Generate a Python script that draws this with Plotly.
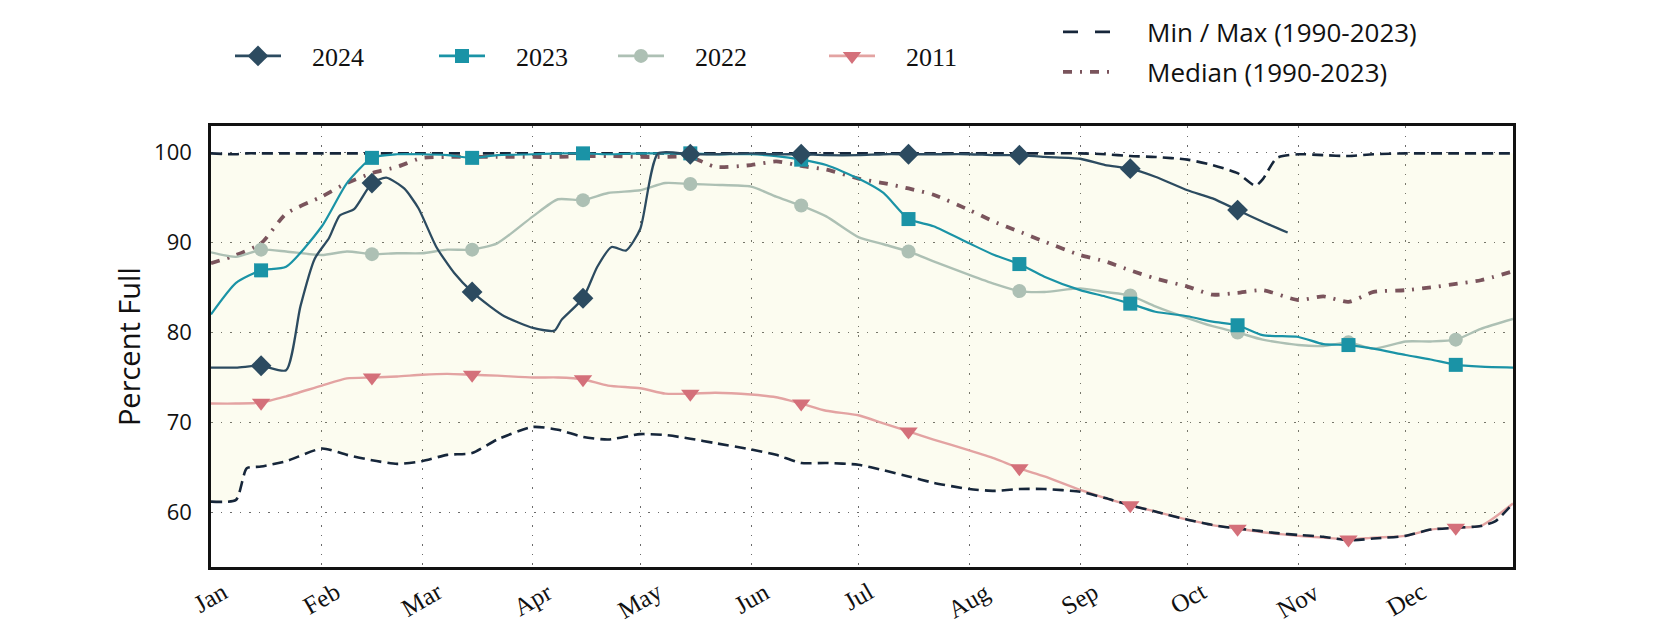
import plotly.graph_objects as go

YEAR = "2023"  # common (non-leap) calendar used for the day-of-year axis

# ---------------- data ----------------
base_dates = ["01-01", "01-08", "01-15", "01-22", "02-01", "02-08", "02-15", "02-22",
              "03-01", "03-08", "03-15", "03-22", "04-01", "04-08", "04-15", "04-22",
              "05-01", "05-08", "05-15", "05-22", "06-01", "06-08", "06-15", "06-22",
              "07-01", "07-08", "07-15", "07-22", "08-01", "08-08", "08-15", "08-22",
              "09-01", "09-08", "09-15", "09-22", "10-01", "10-08", "10-15", "10-22",
              "11-01", "11-08", "11-15", "11-22", "12-01", "12-08", "12-15", "12-22", "12-31"]

v2023 = [82.0, 85.5, 86.9, 87.3, 91.8, 96.6, 99.4, 99.8, 99.8, 99.7, 99.4, 99.7,
         99.8, 99.9, 99.9, 99.8, 99.9, 99.9, 99.9, 99.8, 99.8, 99.6, 99.2, 98.6,
         97.1, 95.5, 92.6, 91.8, 89.9, 88.6, 87.6, 86.2, 84.7, 84.0, 83.2, 82.3,
         81.8, 81.2, 80.8, 79.7, 79.5, 78.7, 78.6, 78.2, 77.5, 77.0, 76.4, 76.2, 76.1]

v2022 = [88.9, 88.4, 89.2, 89.0, 88.6, 89.0, 88.7, 88.8, 88.8, 89.2, 89.2, 89.9,
         92.9, 94.8, 94.7, 95.5, 95.8, 96.6, 96.5, 96.4, 96.2, 95.1, 94.1, 92.9,
         90.6, 89.8, 89.0, 87.9, 86.4, 85.4, 84.6, 84.5, 84.9, 84.5, 84.1, 82.9,
         81.6, 80.7, 80.0, 79.2, 78.6, 78.5, 78.9, 78.2, 79.0, 79.0, 79.2, 80.4, 81.5]

v2011 = [72.1, 72.1, 72.2, 72.9, 74.1, 74.9, 75.0, 75.1, 75.3, 75.4, 75.3, 75.2,
         75.0, 75.0, 74.8, 74.1, 73.8, 73.2, 73.2, 73.3, 73.1, 72.8, 72.1, 71.3,
         70.8, 69.9, 69.0, 68.1, 66.9, 66.0, 64.9, 64.0, 62.5, 61.6, 60.8, 60.1,
         59.2, 58.6, 58.2, 57.8, 57.4, 57.2, 57.0, 57.2, 57.4, 58.1, 58.3, 58.5, 61.0]

v_median = [87.7, 88.6, 89.9, 93.2, 95.1, 96.6, 97.7, 98.4, 99.4, 99.5, 99.5, 99.5,
            99.5, 99.5, 99.6, 99.6, 99.5, 99.5, 99.5, 98.4, 98.6, 99.0, 98.5, 98.1,
            97.1, 96.6, 96.0, 95.3, 93.6, 92.3, 91.2, 90.1, 88.6, 87.9, 86.9, 86.0,
            85.1, 84.2, 84.4, 84.7, 83.6, 84.0, 83.4, 84.5, 84.7, 85.0, 85.4, 85.8, 86.8]

d2024 = ["01-01", "01-08", "01-15", "01-22", "01-26", "01-30", "02-03", "02-06", "02-10",
         "02-15", "02-19", "02-24", "02-28", "03-05", "03-10", "03-15", "03-20", "03-24",
         "04-01", "04-07", "04-09", "04-15", "04-19", "04-23", "04-27", "05-01", "05-06",
         "05-15", "05-22", "06-01", "06-08", "06-15", "06-22", "07-01", "07-08", "07-15",
         "07-22", "08-01", "08-08", "08-15", "08-22", "09-01", "09-08", "09-15", "09-22",
         "10-01", "10-08", "10-15", "10-22", "10-29"]
v2024 = [76.1, 76.1, 76.3, 75.8, 82.9, 88.2, 90.5, 93.0, 93.7,
         96.6, 97.2, 96.0, 93.8, 89.5, 86.6, 84.5, 82.9, 81.8,
         80.5, 80.2, 81.4, 83.8, 87.3, 89.5, 89.1, 91.5, 99.9,
         99.8, 99.8, 99.9, 99.8, 99.8, 99.7, 99.7, 99.8, 99.8,
         99.8, 99.8, 99.7, 99.7, 99.5, 99.3, 98.6, 98.2, 97.3,
         95.8, 94.9, 93.6, 92.3, 91.1]

env_dates = ["01-01", "01-08", "01-11", "01-15", "01-22", "02-01", "02-08", "02-15", "02-22",
             "03-01", "03-08", "03-15", "03-22", "04-01", "04-08", "04-15", "04-22",
             "05-01", "05-08", "05-15", "05-22", "06-01", "06-08", "06-15", "06-22",
             "07-01", "07-08", "07-15", "07-22", "08-01", "08-08", "08-15", "08-22",
             "09-01", "09-08", "09-15", "09-22", "10-01", "10-08", "10-15", "10-20", "10-22",
             "10-26", "11-01", "11-08", "11-15", "11-22", "12-01", "12-08", "12-15", "12-22",
             "12-26", "12-31"]
v_min = [61.2, 61.4, 64.9, 65.1, 65.7, 67.1, 66.4, 65.8, 65.4,
         65.7, 66.4, 66.6, 68.1, 69.5, 69.2, 68.4, 68.1,
         68.7, 68.6, 68.2, 67.7, 67.0, 66.4, 65.5, 65.5,
         65.3, 64.7, 64.0, 63.3, 62.6, 62.4, 62.6, 62.6,
         62.3, 61.6, 60.8, 60.1, 59.2, 58.6, 58.2, 58.0, 57.9,
         57.7, 57.5, 57.3, 56.9, 57.1, 57.4, 58.1, 58.3, 58.5,
         59.0, 61.0]
v_max = [99.9, 99.8, 99.9, 99.9, 99.9, 99.9, 99.9, 99.9, 99.9,
         99.9, 99.9, 99.9, 99.9, 99.9, 99.9, 99.9, 99.9,
         99.9, 99.9, 99.9, 99.9, 99.9, 99.9, 99.9, 99.9,
         99.9, 99.9, 99.9, 99.9, 99.9, 99.9, 99.9, 99.9,
         99.9, 99.8, 99.6, 99.5, 99.2, 98.6, 97.7, 96.3, 97.0,
         99.4, 99.8, 99.7, 99.6, 99.8, 99.9, 99.9, 99.9, 99.9,
         99.9, 99.9]

month_labels = ["Jan", "Feb", "Mar", "Apr", "May", "Jun",
                "Jul", "Aug", "Sep", "Oct", "Nov", "Dec"]
y_ticks = [60, 70, 80, 90, 100]

# ---------------- styles ----------------
C2024, C2023, C2022 = "#2c4b60", "#1a93a6", "#adc0b4"
C2011_LINE, C2011_MK = "#e3a3a2", "#d4707a"
CENV, CMED = "#16263a", "#7a545c"
CFILL = "rgba(225,225,110,0.1)"   # pale cream, lets the grid show through
SANS = "Open Sans"
SERIF = "Liberation Serif"
SHAPE = dict(shape="spline", smoothing=0.6)
PAD_Y = "\u00a0" * 4
PAD_S = "\u00a0" * 4


def dt(md):
    return f"{YEAR}-{md}"


def xs(dates):
    return [dt(d) for d in dates]


def mid_month(dates, vals):
    pts = [(dt(d), v) for d, v in zip(dates, vals) if d.endswith("-15")]
    return [p[0] for p in pts], [p[1] for p in pts]


fig = go.Figure()

# envelope fill (drawn first, underneath everything)
fig.add_trace(go.Scatter(x=xs(env_dates), y=v_min, mode="lines", line=dict(width=0, **SHAPE),
                         showlegend=False, hoverinfo="skip"))
fig.add_trace(go.Scatter(x=xs(env_dates), y=v_max, mode="lines", line=dict(width=0, **SHAPE),
                         fill="tonexty", fillcolor=CFILL, showlegend=False, hoverinfo="skip"))

# 2011 line (below min/max dashes)
fig.add_trace(go.Scatter(x=xs(base_dates), y=v2011, mode="lines",
                         line=dict(color=C2011_LINE, width=2.4, **SHAPE), showlegend=False))

# min / max dashed
env_line = dict(color=CENV, width=2.6, dash="11px,6px", **SHAPE)
fig.add_trace(go.Scatter(x=xs(env_dates), y=v_min, mode="lines", line=env_line, showlegend=False))
fig.add_trace(go.Scatter(x=xs(env_dates), y=v_max, mode="lines", line=env_line, showlegend=False))

# median dash-dot
med_line = dict(color=CMED, width=3.8, dash="9px,8px,2px,8px", **SHAPE)
fig.add_trace(go.Scatter(x=xs(base_dates), y=v_median, mode="lines", line=med_line, showlegend=False))

# 2022, 2023, 2024 lines
fig.add_trace(go.Scatter(x=xs(base_dates), y=v2022, mode="lines",
                         line=dict(color=C2022, width=2.4, **SHAPE), showlegend=False))
fig.add_trace(go.Scatter(x=xs(base_dates), y=v2023, mode="lines",
                         line=dict(color=C2023, width=2.2, **SHAPE), showlegend=False))
fig.add_trace(go.Scatter(x=xs(d2024), y=v2024, mode="lines",
                         line=dict(color=C2024, width=2.3, **SHAPE), showlegend=False))

# monthly markers (15th of each month)
mk = [
    (base_dates, v2011, "triangle-down", C2011_MK, 16),
    (base_dates, v2022, "circle", C2022, 14),
    (base_dates, v2023, "square", C2023, 14),
    (d2024, v2024, "diamond", C2024, 16),
]
for dts, vals, sym, col, sz in mk:
    mx, my = mid_month(dts, vals)
    fig.add_trace(go.Scatter(x=mx, y=my, mode="markers",
                             marker=dict(symbol=sym, color=col, size=sz, line=dict(width=0)),
                             showlegend=False))

# legend entries
leg_items = [
    ("2024", C2024, C2024, "diamond", 16, "legend"),
    ("2023", C2023, C2023, "square", 14, "legend2"),
    ("2022", C2022, C2022, "circle", 14, "legend3"),
    ("2011", C2011_LINE, C2011_MK, "triangle-down", 16, "legend4"),
]
for name, lc, mc, sym, sz, lg in leg_items:
    fig.add_trace(go.Scatter(x=[None], y=[None], mode="lines+markers", name=PAD_Y + name,
                             line=dict(color=lc, width=2.6),
                             marker=dict(symbol=sym, color=mc, size=sz),
                             legend=lg, showlegend=True))
fig.add_trace(go.Scatter(x=[None], y=[None], mode="lines", name=PAD_S + "Min / Max (1990-2023)",
                         line=dict(color=CENV, width=2.6, dash="15px,17px"),
                         legend="legend5", showlegend=True))
fig.add_trace(go.Scatter(x=[None], y=[None], mode="lines", name=PAD_S + "Median (1990-2023)",
                         line=dict(color=CMED, width=3.8, dash="9px,8px,2px,8px"),
                         legend="legend6", showlegend=True))

W, H = 1680, 630
PL, PR, PT, PB = 211, 1513, 126, 567


def leg(px, py, font, iw=30):
    return dict(x=px / W, y=1 - py / H, xref="container", yref="container",
                xanchor="left", yanchor="middle", bgcolor="rgba(0,0,0,0)",
                borderwidth=0, font=font, itemwidth=iw, orientation="v")


year_font = dict(family=SERIF, size=26, color="#111111")
sans_font = dict(family=SANS, size=26, color="#111111")

# month tick labels as rotated text
annotations = []
for i, lab in enumerate(month_labels):
    annotations.append(dict(x=dt(f"{i + 1:02d}-01"), y=0, xref="x", yref="paper",
                            text=lab, showarrow=False, textangle=-30,
                            xanchor="center", yanchor="top", yshift=-8,
                            font=dict(family=SERIF, size=25, color="#111111")))
# y-axis title
annotations.append(dict(x=(128.6 - PL) / (PR - PL), y=0.5, xref="paper", yref="paper",
                        text="Percent Full", showarrow=False, textangle=-90,
                        xanchor="center", yanchor="middle",
                        font=dict(family=SANS, size=29, color="#111111")))

fig.update_layout(
    width=W, height=H,
    margin=dict(l=PL, r=W - PR, t=PT, b=H - PB, autoexpand=False),
    paper_bgcolor="white", plot_bgcolor="white",
    annotations=annotations,
    legend=leg(230, 56, year_font, iw=46),
    legend2=leg(434, 56, year_font, iw=46),
    legend3=leg(613, 56, year_font, iw=46),
    legend4=leg(824, 56, year_font, iw=46),
    legend5=leg(1058, 32, sans_font, iw=52),
    legend6=leg(1058, 72, sans_font, iw=52),
    xaxis=dict(type="date", range=[dt("01-01"), dt("12-31")],
               dtick="M1", tick0=dt("01-01"), showticklabels=False, ticks="",
               showgrid=True, gridcolor="#6a6a6a", gridwidth=1, griddash="1.5px,8px",
               showline=True, linecolor="#111111", linewidth=2.5, mirror=True,
               zeroline=False),
    yaxis=dict(range=[53.94, 102.94], tickvals=y_ticks, ticks="",
               ticklabelstandoff=12,
               tickfont=dict(family=SANS, size=22, color="#111111"),
               showgrid=True, gridcolor="#6a6a6a", gridwidth=1, griddash="1.5px,8px",
               showline=True, linecolor="#111111", linewidth=2.5, mirror=True,
               zeroline=False),
)

fig.write_html("out.html", config={"displayModeBar": False},
               post_script="document.body.style.margin='0';")
